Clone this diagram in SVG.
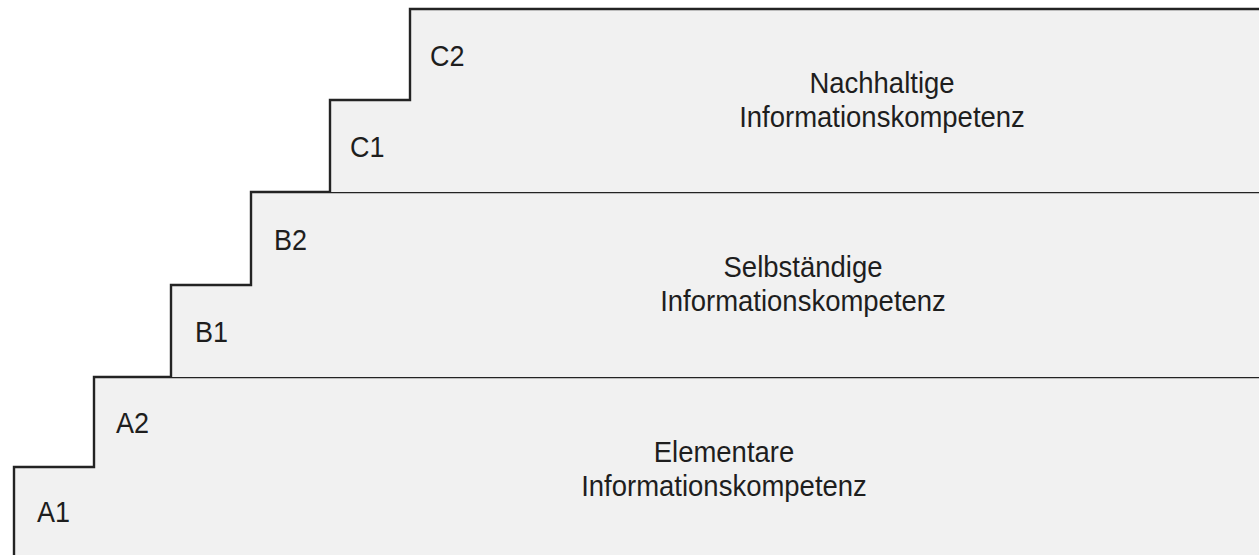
<svg xmlns="http://www.w3.org/2000/svg" width="1259" height="555" viewBox="0 0 1259 555">
  <style>
    .tier { fill: #f1f1f1; stroke: none; }
    .edge { fill: none; stroke: #232323; stroke-width: 2.4; stroke-linejoin: miter; }
    .lbl { font-family: "Liberation Sans", Arial, sans-serif; font-size: 27px; fill: #1e1e1e; }
    .title { font-family: "Liberation Sans", Arial, sans-serif; font-size: 27.5px; fill: #1e1e1e; text-anchor: middle; }
  </style>
  <rect width="1259" height="555" fill="#ffffff"/>
  <g id="tier-a">
    <path class="tier" d="M14,556 L14,467 L94,467 L94,377 L1260,377 L1260,556 Z"/>
    <path class="edge" d="M14,556 L14,467 L94,467 L94,377 L1260,377"/>
    <text class="lbl" transform="translate(37,522) scale(1,1.1)">A1</text>
    <text class="lbl" transform="translate(116,433) scale(1,1.1)">A2</text>
    <text class="title" transform="translate(724,462) scale(1,1.1)">Elementare</text>
    <text class="title" transform="translate(724,496) scale(1,1.1)">Informationskompetenz</text>
  </g>
  <g id="tier-b">
    <path class="tier" d="M171,377 L171,285 L251,285 L251,192 L1260,192 L1260,377 Z"/>
    <path class="edge" d="M171,377 L171,285 L251,285 L251,192 L1260,192"/>
    <text class="lbl" transform="translate(195,342) scale(1,1.1)">B1</text>
    <text class="lbl" transform="translate(274,250) scale(1,1.1)">B2</text>
    <text class="title" transform="translate(803,277) scale(1,1.1)">Selbständige</text>
    <text class="title" transform="translate(803,311) scale(1,1.1)">Informationskompetenz</text>
  </g>
  <g id="tier-c">
    <path class="tier" d="M330,192 L330,100 L410,100 L410,9 L1260,9 L1260,192 Z"/>
    <path class="edge" d="M330,192 L330,100 L410,100 L410,9 L1260,9"/>
    <text class="lbl" transform="translate(350,157) scale(1,1.1)">C1</text>
    <text class="lbl" transform="translate(430,66) scale(1,1.1)">C2</text>
    <text class="title" transform="translate(882,93) scale(1,1.1)">Nachhaltige</text>
    <text class="title" transform="translate(882,127) scale(1,1.1)">Informationskompetenz</text>
  </g>
  <g id="connectors"></g>
</svg>
